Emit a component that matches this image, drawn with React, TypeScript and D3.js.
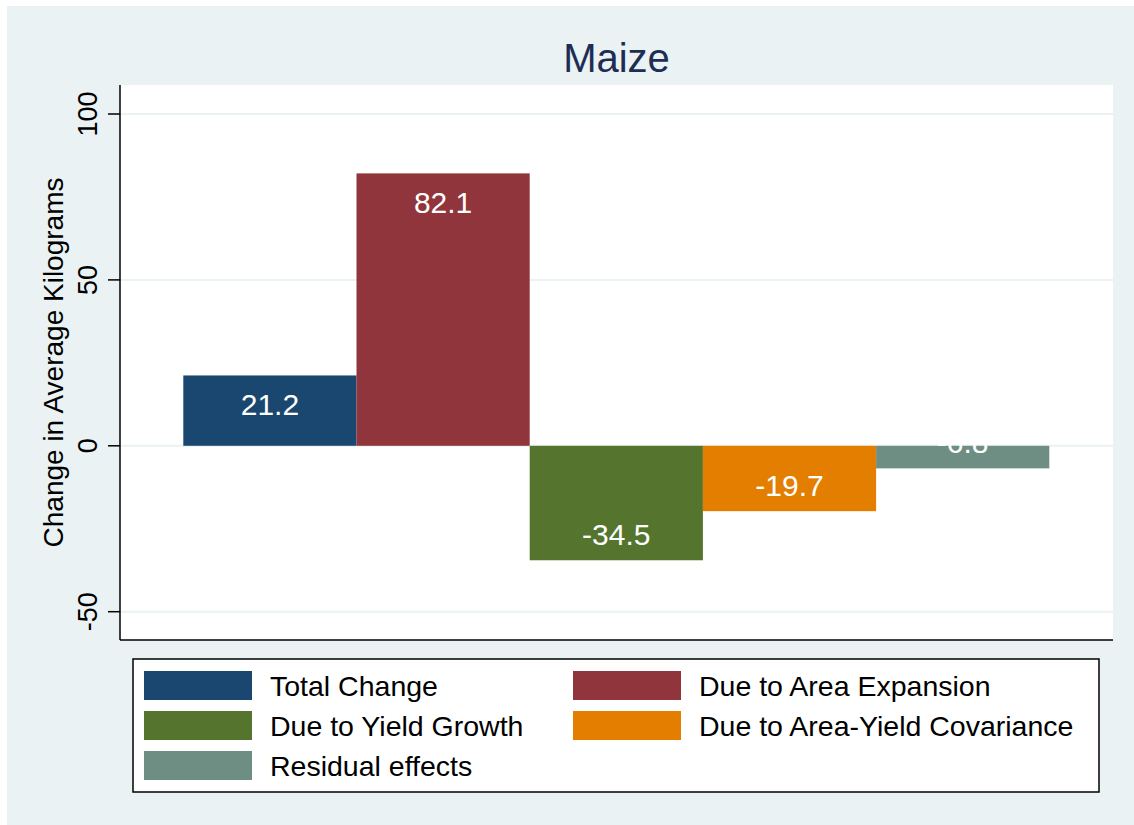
import React from "react";
import * as d3 from "d3";

const categories = [
  "Total Change",
  "Due to Area Expansion",
  "Due to Yield Growth",
  "Due to Area-Yield Covariance",
  "Residual effects",
];
const values = [21.2, 82.1, -34.5, -19.7, -6.8];
const colors = ["#1a476f", "#90353b", "#55752f", "#e37e00", "#6e8e84"];
const yTicks = [-50, 0, 50, 100];
const title = "Maize";
const yTitle = "Change in Average Kilograms";

const W = 1134;
const H = 825;
const plot = { left: 120, right: 1113, top: 85, bottom: 640 };
const FONT = "'Liberation Sans', Arial, Helvetica, sans-serif";

export default function App() {
  const y = d3.scaleLinear().domain([-50, 100]).range([611.7, 114]);
  const x = d3
    .scaleBand<string>()
    .domain(categories)
    .range([183.3, 1049.3])
    .padding(0);

  const legendBox = { x: 133, y: 659, w: 966, h: 133 };
  const colX = [144, 573];
  const rowY = [671, 711, 751];
  const swW = 108;
  const swH = 29;

  return (
    <svg
      width={W}
      height={H}
      style={{ position: "absolute", left: 0, top: 0, fontFamily: FONT }}
    >
      <rect x={0} y={0} width={W} height={H} fill="#ffffff" />
      <rect x={7} y={6} width={W - 7} height={H - 6} fill="#eaf2f3" />
      <rect
        x={plot.left}
        y={plot.top}
        width={plot.right - plot.left}
        height={plot.bottom - plot.top}
        fill="#ffffff"
      />
      {yTicks.map((t) => (
        <line
          key={"g" + t}
          x1={plot.left}
          x2={plot.right}
          y1={y(t)}
          y2={y(t)}
          stroke="#eaf2f3"
          strokeWidth={2}
        />
      ))}
      {categories.map((c, i) => {
        const v = values[i];
        const y0 = y(0);
        const y1 = y(v);
        return (
          <rect
            key={c}
            x={x(c)}
            y={Math.min(y0, y1)}
            width={x.bandwidth()}
            height={Math.abs(y1 - y0)}
            fill={colors[i]}
          />
        );
      })}
      {categories.map((c, i) => {
        const v = values[i];
        const ly = v >= 0 ? y(v) + 40 : y(v) - 15;
        return (
          <text
            key={"l" + c}
            x={(x(c) as number) + x.bandwidth() / 2}
            y={ly}
            fill="#ffffff"
            fontSize={30}
            textAnchor="middle"
          >
            {v.toFixed(1)}
          </text>
        );
      })}
      <line
        x1={plot.left}
        x2={plot.left}
        y1={plot.top}
        y2={plot.bottom}
        stroke="#000"
        strokeWidth={1.5}
      />
      <line
        x1={plot.left}
        x2={plot.right}
        y1={plot.bottom}
        y2={plot.bottom}
        stroke="#000"
        strokeWidth={1.5}
      />
      {yTicks.map((t) => (
        <g key={"t" + t}>
          <line
            x1={plot.left - 12}
            x2={plot.left}
            y1={y(t)}
            y2={y(t)}
            stroke="#000"
            strokeWidth={1.5}
          />
          <text
            transform={`translate(${97},${y(t)}) rotate(-90)`}
            textAnchor="middle"
            fontSize={27}
            fill="#000"
          >
            {t}
          </text>
        </g>
      ))}
      <text
        transform={`translate(${63},${(plot.top + plot.bottom) / 2}) rotate(-90)`}
        textAnchor="middle"
        fontSize={28}
        fill="#000"
      >
        {yTitle}
      </text>
      <text
        x={(plot.left + plot.right) / 2}
        y={72}
        textAnchor="middle"
        fontSize={40}
        fill="#1e2d53"
      >
        {title}
      </text>
      <rect
        x={legendBox.x}
        y={legendBox.y}
        width={legendBox.w}
        height={legendBox.h}
        fill="#ffffff"
        stroke="#000"
        strokeWidth={1.5}
      />
      {categories.map((c, i) => {
        const col = i % 2;
        const row = Math.floor(i / 2);
        return (
          <g key={"lg" + c}>
            <rect
              x={colX[col]}
              y={rowY[row]}
              width={swW}
              height={swH}
              fill={colors[i]}
            />
            <text
              x={colX[col] + 126}
              y={rowY[row] + swH / 2 + 10}
              fontSize={28.5}
              fill="#000"
            >
              {c}
            </text>
          </g>
        );
      })}
    </svg>
  );
}
